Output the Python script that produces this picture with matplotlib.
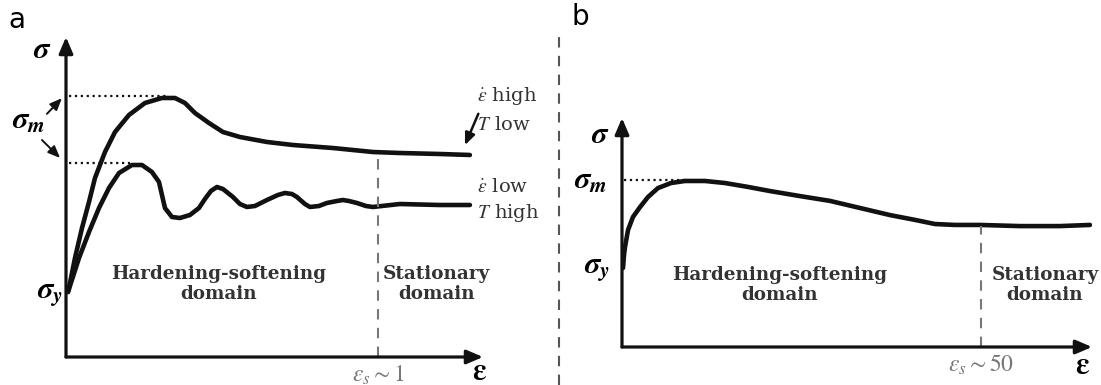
import matplotlib
matplotlib.use("Agg")
import matplotlib.pyplot as plt
from matplotlib.lines import Line2D

plt.rcParams['mathtext.fontset'] = 'stix'
plt.rcParams['font.family'] = 'DejaVu Serif'

# panel a: strain (eps_s = 1 at the dashed line), stress normalised to axis height
a_high_x = [0.0064, 0.0096, 0.0288, 0.0513, 0.0737, 0.0929, 0.1250, 0.1571, 0.2019, 0.2532,
            0.3077, 0.3494, 0.3814, 0.4135, 0.4583, 0.5032, 0.5577, 0.6442, 0.7276, 0.8558,
            0.9840, 1.0705, 1.1987, 1.2949]
a_high_y = [0.2031, 0.2156, 0.3094, 0.4031, 0.4844, 0.5594, 0.6406, 0.7031, 0.7563, 0.7938,
            0.8094, 0.8094, 0.7938, 0.7625, 0.7313, 0.7031, 0.6875, 0.6719, 0.6625, 0.6531,
            0.6406, 0.6375, 0.6344, 0.6313]
a_low_x = [0.0064, 0.0417, 0.0737, 0.1058, 0.1378, 0.1699, 0.2115, 0.2436, 0.2756, 0.2981,
           0.3077, 0.3173, 0.3397, 0.3654, 0.3974, 0.4263, 0.4455, 0.4647, 0.4840, 0.5032,
           0.5353, 0.5577, 0.5801, 0.6058, 0.6442, 0.6795, 0.7019, 0.7244, 0.7404, 0.7660,
           0.7821, 0.8109, 0.8365, 0.8686, 0.8878, 0.9071, 0.9327, 0.9615, 0.9840, 1.0128,
           1.0705, 1.1987, 1.2949]
a_low_y = [0.2031, 0.3094, 0.3906, 0.4656, 0.5281, 0.5750, 0.6000, 0.6000, 0.5781, 0.5469,
           0.5063, 0.4656, 0.4375, 0.4344, 0.4438, 0.4656, 0.4938, 0.5188, 0.5313, 0.5250,
           0.5000, 0.4781, 0.4688, 0.4719, 0.4906, 0.5063, 0.5125, 0.5094, 0.5000, 0.4781,
           0.4688, 0.4719, 0.4813, 0.4875, 0.4906, 0.4875, 0.4813, 0.4719, 0.4688, 0.4719,
           0.4781, 0.4750, 0.4750]
a_sigma_m = [0.816, 0.606]
a_sigma_m_end = [0.33, 0.215]
a_eps_s = 1.0

# panel b: strain (eps_s = 50), stress normalised
b_x = [0.14, 0.28, 0.42, 0.84, 1.53, 2.51, 3.62, 5.01, 6.82, 8.77, 11.56, 14.35, 17.55,
       20.61, 24.79, 28.97, 33.15, 37.33, 40.81, 43.59, 46.38, 49.86, 55.43, 61.00, 65.18]
b_y = [0.345, 0.402, 0.437, 0.511, 0.568, 0.611, 0.655, 0.694, 0.716, 0.725, 0.725, 0.716,
       0.699, 0.681, 0.659, 0.638, 0.607, 0.576, 0.555, 0.537, 0.533, 0.533, 0.528, 0.528,
       0.533]
b_sigma_m = 0.729
b_eps_s = 50

W, H = 1101, 385
fig = plt.figure(figsize=(W / 100, H / 100), dpi=100)

ink = '#111111'
gray = '#777777'
txt = '#333333'


def axes_px(left, bottom_y, right, top_y):
    return fig.add_axes([left / W, (H - bottom_y) / H, (right - left) / W, (bottom_y - top_y) / H])


def draw_axes(ax, xmax, ymax):
    ax.set_xlim(0, xmax)
    ax.set_ylim(0, ymax)
    ax.axis('off')
    ap = dict(arrowstyle='-|>,head_length=0.7,head_width=0.3', lw=2.3, color=ink,
              mutation_scale=14, shrinkA=0, shrinkB=0)
    ax.annotate('', xy=(xmax, 0), xytext=(0, 0), arrowprops=ap, annotation_clip=False)
    ax.annotate('', xy=(0, ymax), xytext=(0, 0), arrowprops=ap, annotation_clip=False)


sig = r'$\boldsymbol{\sigma}$'
sig_m = r'$\boldsymbol{\sigma}_{\boldsymbol{m}}$'
sig_y = r'$\boldsymbol{\sigma}_{\boldsymbol{y}}$'
eps = r'$\boldsymbol{\varepsilon}$'
curve = dict(color=ink, lw=3.3, solid_capstyle='round', solid_joinstyle='round')
dom = dict(fontsize=13.2, fontweight='bold', color=txt, ha='center', va='center',
           linespacing=1.15, clip_on=False)
cond = dict(fontsize=14, color=txt, ha='left', va='center')

# ---- panel a
ax = axes_px(66, 357, 483, 37)
draw_axes(ax, 1.337, 1.0)
for sm, xe in zip(a_sigma_m, a_sigma_m_end):
    ax.plot([0.01, xe], [sm, sm], ':', color=ink, lw=1.6)
ax.plot(a_high_x, a_high_y, **curve)
ax.plot(a_low_x, a_low_y, **curve)
ax.plot([a_eps_s, a_eps_s], [0, 0.638], '--', color=gray, lw=1.5, dashes=(5, 4))

ax.text(-0.077, 0.96, sig, fontsize=22, ha='center', va='center')
ax.text(-0.12, 0.74, sig_m, fontsize=22, ha='center', va='center')
ax.text(-0.05, 0.2, sig_y, fontsize=22, ha='center', va='center')
small = dict(arrowstyle='-|>,head_length=0.6,head_width=0.25', lw=1.4, color=ink,
             mutation_scale=12, shrinkA=0, shrinkB=0)
ax.annotate('', xy=(-0.013, 0.809), xytext=(-0.061, 0.76), arrowprops=small, annotation_clip=False)
ax.annotate('', xy=(-0.019, 0.622), xytext=(-0.077, 0.678), arrowprops=small, annotation_clip=False)

ax.text(1.318, 0.815, r'$\dot{\varepsilon}$ high', **cond)
ax.text(1.318, 0.725, r'$T$ low', **cond)
ax.annotate('', xy=(1.279, 0.662), xytext=(1.322, 0.76), arrowprops=dict(small, lw=1.8),
            annotation_clip=False)
ax.text(1.318, 0.53, r'$\dot{\varepsilon}$ low', **cond)
ax.text(1.318, 0.45, r'$T$ high', **cond)

ax.text(0.49, 0.228, 'Hardening-softening\ndomain', **dom)
ax.text(1.189, 0.228, 'Stationary\ndomain', **dom)
ax.text(a_eps_s, -0.056, r'$\varepsilon_{s}\sim\mathit{1}$', fontsize=17, color=gray, ha='center', va='center')
ax.text(1.327, -0.046, eps, fontsize=22, ha='center', va='center')

# ---- panel b
bx = axes_px(622, 347, 1092, 118)
draw_axes(bx, 65.46, 1.0)
bx.plot([0.3, 9.0], [b_sigma_m, b_sigma_m], ':', color=ink, lw=1.6)
bx.plot(b_x, b_y, **curve)
bx.plot([b_eps_s, b_eps_s], [0, 0.53], '--', color=gray, lw=1.5, dashes=(5, 4))

bx.text(-3.06, 0.926, sig, fontsize=22, ha='center', va='center')
bx.text(-4.3, 0.729, sig_m, fontsize=22, ha='center', va='center')
bx.text(-3.4, 0.345, sig_y, fontsize=22, ha='center', va='center')
bx.text(21.9, 0.27, 'Hardening-softening\ndomain', **dom)
bx.text(58.9, 0.27, 'Stationary\ndomain', **dom)
bx.text(b_eps_s, -0.079, r'$\varepsilon_{s}\sim\mathit{50}$', fontsize=17, color=gray, ha='center', va='center')
bx.text(64.2, -0.079, eps, fontsize=22, ha='center', va='center')

# panel letters and separator
fig.text(17 / W, 1 - 20 / H, 'a', fontsize=20, family='DejaVu Sans', ha='center', va='center')
fig.text(580 / W, 1 - 17 / H, 'b', fontsize=20, family='DejaVu Sans', ha='center', va='center')
fig.add_artist(Line2D([559 / W, 559 / W], [0, 1 - 30 / H], transform=fig.transFigure,
                      color='#555555', lw=1.5, ls='--', dashes=(5, 4)))

fig.savefig('out.png', dpi=100)
